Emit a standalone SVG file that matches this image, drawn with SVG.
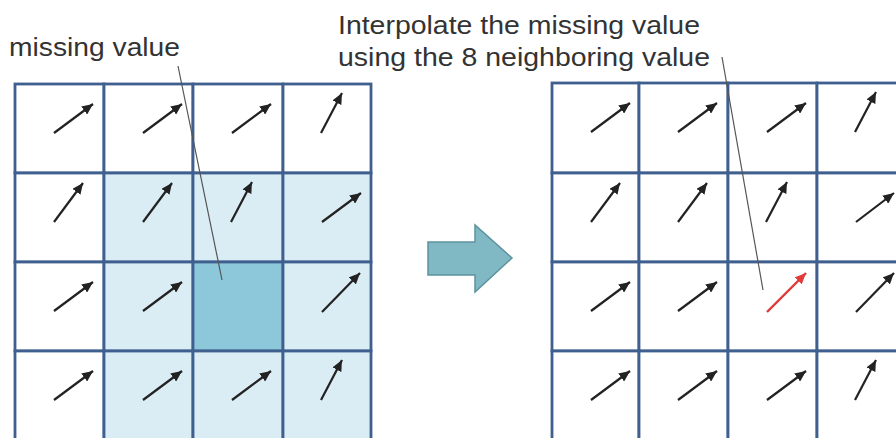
<svg xmlns="http://www.w3.org/2000/svg" width="896" height="438" viewBox="0 0 896 438">
<style>
.txt{font-family:"Liberation Sans",Arial,sans-serif;font-size:25.5px;fill:#333}
.cell{stroke:#3f5f8f;stroke-width:2.8}
.w{fill:#ffffff}
.lb{fill:#dbedf4}
.db{fill:#8cc8da}
.ar{stroke:#222;stroke-width:2.2;fill:none;marker-end:url(#hk)}
.red{stroke:#e03a3a;stroke-width:2.4;fill:none;marker-end:url(#hr)}
.lead{stroke:#555;stroke-width:1.2;fill:none}
</style>
<defs>
<marker id="hk" markerUnits="userSpaceOnUse" markerWidth="12" markerHeight="10" refX="11" refY="5" orient="auto"><path d="M0,0 L11,5 L0,10 Z" fill="#222"/></marker>
<marker id="hr" markerUnits="userSpaceOnUse" markerWidth="12" markerHeight="10" refX="11" refY="5" orient="auto"><path d="M0,0 L11,5 L0,10 Z" fill="#e03a3a"/></marker>
</defs>
<rect width="896" height="438" fill="#ffffff"/>
<g id="label-missing"><text class="txt" x="9" y="56" textLength="171" lengthAdjust="spacingAndGlyphs">missing value</text></g>
<g id="label-interp">
<text class="txt" x="338" y="34" textLength="362" lengthAdjust="spacingAndGlyphs">Interpolate the missing value</text>
<text class="txt" x="338" y="66" textLength="372" lengthAdjust="spacingAndGlyphs">using the 8 neighboring value</text>
</g>
<g id="left-grid">
<g id="L00"><rect class="cell w" x="15" y="84" width="89" height="89"/><line class="ar" x1="54" y1="133" x2="93" y2="104"/></g>
<g id="L10"><rect class="cell w" x="104" y="84" width="89" height="89"/><line class="ar" x1="143" y1="133" x2="182" y2="104"/></g>
<g id="L20"><rect class="cell w" x="193" y="84" width="90" height="89"/><line class="ar" x1="232" y1="133" x2="271" y2="104"/></g>
<g id="L30"><rect class="cell w" x="283" y="84" width="88" height="89"/><line class="ar" x1="321" y1="133" x2="342" y2="93"/></g>
<g id="L01"><rect class="cell w" x="15" y="173" width="89" height="89"/><line class="ar" x1="54" y1="222" x2="83" y2="183"/></g>
<g id="L11"><rect class="cell lb" x="104" y="173" width="89" height="89"/><line class="ar" x1="143" y1="222" x2="172" y2="183"/></g>
<g id="L21"><rect class="cell lb" x="193" y="173" width="90" height="89"/><line class="ar" x1="231" y1="222" x2="252" y2="182"/></g>
<g id="L31"><rect class="cell lb" x="283" y="173" width="88" height="89"/><line class="ar" x1="322" y1="222" x2="361" y2="193"/></g>
<g id="L02"><rect class="cell w" x="15" y="262" width="89" height="89"/><line class="ar" x1="54" y1="311" x2="93" y2="282"/></g>
<g id="L12"><rect class="cell lb" x="104" y="262" width="89" height="89"/><line class="ar" x1="143" y1="311" x2="182" y2="282"/></g>
<g id="L22"><rect class="cell db" x="193" y="262" width="90" height="89"/></g>
<g id="L32"><rect class="cell lb" x="283" y="262" width="88" height="89"/><line class="ar" x1="322" y1="312" x2="360" y2="273"/></g>
<g id="L03"><rect class="cell w" x="15" y="351" width="89" height="92"/><line class="ar" x1="54" y1="400" x2="93" y2="371"/></g>
<g id="L13"><rect class="cell lb" x="104" y="351" width="89" height="92"/><line class="ar" x1="143" y1="400" x2="182" y2="371"/></g>
<g id="L23"><rect class="cell lb" x="193" y="351" width="90" height="92"/><line class="ar" x1="232" y1="400" x2="271" y2="371"/></g>
<g id="L33"><rect class="cell lb" x="283" y="351" width="88" height="92"/><line class="ar" x1="321" y1="400" x2="342" y2="360"/></g>
</g>
<g id="big-arrow"><path d="M428,242 L475,242 L475,225 L512,258 L475,292 L475,275 L428,275 Z" fill="#80b8c4" stroke="#5d939e" stroke-width="1.5"/></g>
<g id="right-grid">
<g id="R00"><rect class="cell w" x="552" y="83" width="87" height="90"/><line class="ar" x1="591" y1="132" x2="630" y2="103"/></g>
<g id="R10"><rect class="cell w" x="639" y="83" width="89" height="90"/><line class="ar" x1="678" y1="132" x2="717" y2="103"/></g>
<g id="R20"><rect class="cell w" x="728" y="83" width="89" height="90"/><line class="ar" x1="767" y1="132" x2="806" y2="103"/></g>
<g id="R30"><rect class="cell w" x="817" y="83" width="92" height="90"/><line class="ar" x1="855" y1="132" x2="876" y2="92"/></g>
<g id="R01"><rect class="cell w" x="552" y="173" width="87" height="89"/><line class="ar" x1="591" y1="222" x2="620" y2="183"/></g>
<g id="R11"><rect class="cell w" x="639" y="173" width="89" height="89"/><line class="ar" x1="678" y1="222" x2="707" y2="183"/></g>
<g id="R21"><rect class="cell w" x="728" y="173" width="89" height="89"/><line class="ar" x1="766" y1="222" x2="787" y2="182"/></g>
<g id="R31"><rect class="cell w" x="817" y="173" width="92" height="89"/><line class="ar" x1="856" y1="222" x2="894" y2="193"/></g>
<g id="R02"><rect class="cell w" x="552" y="262" width="87" height="89"/><line class="ar" x1="591" y1="311" x2="630" y2="282"/></g>
<g id="R12"><rect class="cell w" x="639" y="262" width="89" height="89"/><line class="ar" x1="678" y1="311" x2="717" y2="282"/></g>
<g id="R22"><rect class="cell w" x="728" y="262" width="89" height="89"/><line class="red" x1="767" y1="312" x2="806" y2="273"/></g>
<g id="R32"><rect class="cell w" x="817" y="262" width="92" height="89"/><line class="ar" x1="856" y1="312" x2="894" y2="273"/></g>
<g id="R03"><rect class="cell w" x="552" y="351" width="87" height="92"/><line class="ar" x1="591" y1="400" x2="630" y2="371"/></g>
<g id="R13"><rect class="cell w" x="639" y="351" width="89" height="92"/><line class="ar" x1="678" y1="400" x2="717" y2="371"/></g>
<g id="R23"><rect class="cell w" x="728" y="351" width="89" height="92"/><line class="ar" x1="767" y1="400" x2="806" y2="371"/></g>
<g id="R33"><rect class="cell w" x="817" y="351" width="92" height="92"/><line class="ar" x1="855" y1="400" x2="876" y2="360"/></g>
</g>
<g id="connectors">
<line class="lead" x1="178" y1="66" x2="222" y2="280"/>
<line class="lead" x1="722" y1="57" x2="763" y2="290"/>
</g>
</svg>
